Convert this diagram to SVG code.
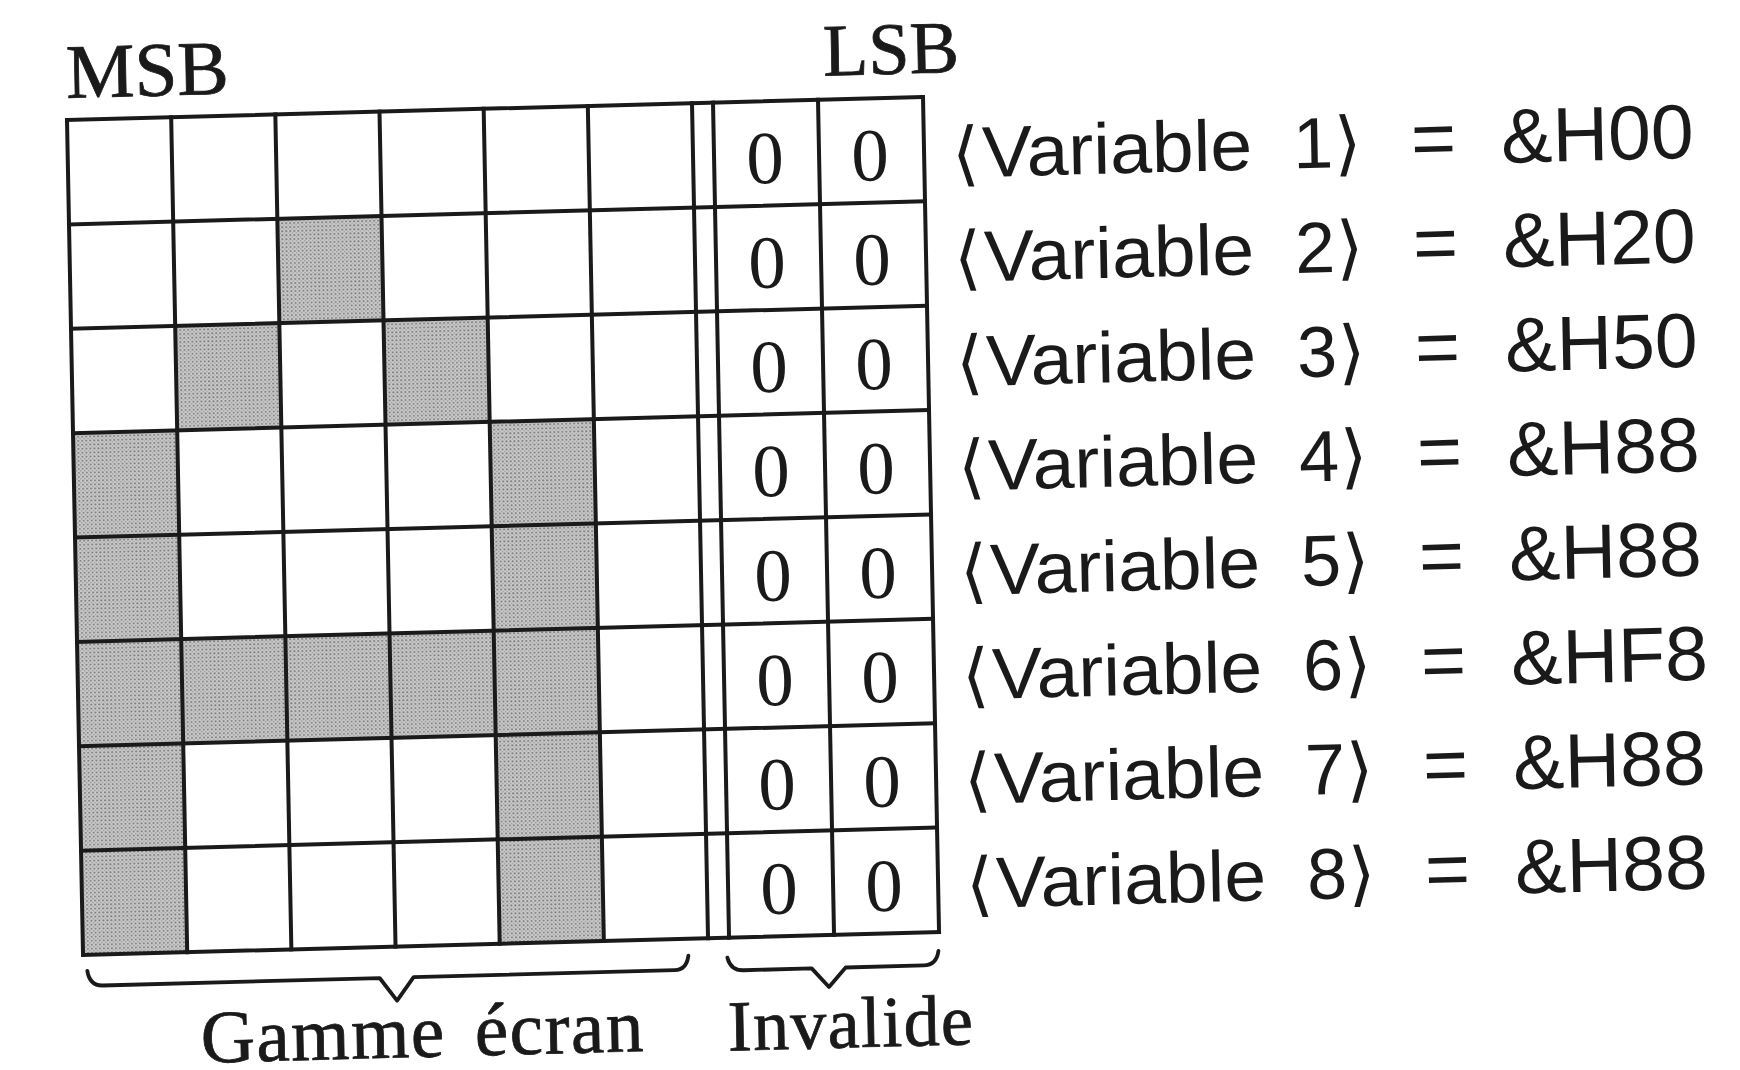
<svg xmlns="http://www.w3.org/2000/svg" width="1740" height="1070" viewBox="0 0 1740 1070">
<style>
  .ln { stroke: #1a1a1a; stroke-width: 4; fill: none; stroke-linecap: square; }
  .br { stroke: #1a1a1a; stroke-width: 3.8; fill: none; stroke-linejoin: round; stroke-linecap: round; }
  .sh { fill: url(#dots); }
  .serif { font-family: "Liberation Serif", "Times New Roman", serif; fill: #1a1a1a; stroke: #1a1a1a; stroke-width: 0.8; }
  .zero { font-family: "Liberation Serif", "Times New Roman", serif; font-size: 75px; fill: #1a1a1a; text-anchor: middle; }
  .lbl { font-family: "Liberation Sans", Arial, sans-serif; font-size: 72px; fill: #1a1a1a; }
  .ang { font-family: "DejaVu Sans", "Liberation Sans", sans-serif; font-size: 70px; }
  .hx { font-size: 77px; }
</style>
<defs>
  <pattern id="dots" width="4" height="4" patternUnits="userSpaceOnUse">
    <rect width="4" height="4" fill="#cbcbcb"/>
    <circle cx="1" cy="1" r="1" fill="#7e7e7e"/>
    <circle cx="3" cy="3" r="0.8" fill="#9a9a9a"/>
  </pattern>
</defs>
<rect width="1740" height="1070" fill="#ffffff"/>
<g transform="matrix(1,-0.0269,0.0192,1,67,120)">
  <g id="headers">
    <text class="serif" x="0" y="-22" font-size="77">MSB</text>
    <text class="serif" x="757" y="-24" font-size="74">LSB</text>
  </g>
  <g id="row1">
    <text class="zero" x="697" y="82">0</text><text class="zero" x="802" y="82">0</text>
    <text class="lbl ang" x="884" y="81.5">⟨</text>
    <text class="lbl" x="914" y="81.5" textLength="270" lengthAdjust="spacingAndGlyphs">Variable</text>
    <text class="lbl" y="81.5"><tspan x="1225">1</tspan><tspan class="ang" x="1266">⟩</tspan><tspan class="hx" x="1343">=</tspan><tspan class="hx" x="1433">&amp;H00</tspan></text>
  </g>
  <g id="row2">
    <rect class="sh" x="208.33" y="104.375" width="104.17" height="104.375"/>
    <text class="zero" x="697" y="186.4">0</text><text class="zero" x="802" y="186.4">0</text>
    <text class="lbl ang" x="884" y="185.9">⟨</text>
    <text class="lbl" x="914" y="185.9" textLength="270" lengthAdjust="spacingAndGlyphs">Variable</text>
    <text class="lbl" y="185.9"><tspan x="1225">2</tspan><tspan class="ang" x="1266">⟩</tspan><tspan class="hx" x="1343">=</tspan><tspan class="hx" x="1433">&amp;H20</tspan></text>
  </g>
  <g id="row3">
    <rect class="sh" x="104.17" y="208.75" width="104.17" height="104.375"/>
    <rect class="sh" x="312.5" y="208.75" width="104.17" height="104.375"/>
    <text class="zero" x="697" y="290.75">0</text><text class="zero" x="802" y="290.75">0</text>
    <text class="lbl ang" x="884" y="290.25">⟨</text>
    <text class="lbl" x="914" y="290.25" textLength="270" lengthAdjust="spacingAndGlyphs">Variable</text>
    <text class="lbl" y="290.25"><tspan x="1225">3</tspan><tspan class="ang" x="1266">⟩</tspan><tspan class="hx" x="1343">=</tspan><tspan class="hx" x="1433">&amp;H50</tspan></text>
  </g>
  <g id="row4">
    <rect class="sh" x="0" y="313.125" width="104.17" height="104.375"/>
    <rect class="sh" x="416.67" y="313.125" width="104.17" height="104.375"/>
    <text class="zero" x="697" y="395.1">0</text><text class="zero" x="802" y="395.1">0</text>
    <text class="lbl ang" x="884" y="394.6">⟨</text>
    <text class="lbl" x="914" y="394.6" textLength="270" lengthAdjust="spacingAndGlyphs">Variable</text>
    <text class="lbl" y="394.6"><tspan x="1225">4</tspan><tspan class="ang" x="1266">⟩</tspan><tspan class="hx" x="1343">=</tspan><tspan class="hx" x="1433">&amp;H88</tspan></text>
  </g>
  <g id="row5">
    <rect class="sh" x="0" y="417.5" width="104.17" height="104.375"/>
    <rect class="sh" x="416.67" y="417.5" width="104.17" height="104.375"/>
    <text class="zero" x="697" y="499.5">0</text><text class="zero" x="802" y="499.5">0</text>
    <text class="lbl ang" x="884" y="499">⟨</text>
    <text class="lbl" x="914" y="499" textLength="270" lengthAdjust="spacingAndGlyphs">Variable</text>
    <text class="lbl" y="499"><tspan x="1225">5</tspan><tspan class="ang" x="1266">⟩</tspan><tspan class="hx" x="1343">=</tspan><tspan class="hx" x="1433">&amp;H88</tspan></text>
  </g>
  <g id="row6">
    <rect class="sh" x="0" y="521.875" width="520.83" height="104.375"/>
    <text class="zero" x="697" y="603.9">0</text><text class="zero" x="802" y="603.9">0</text>
    <text class="lbl ang" x="884" y="603.4">⟨</text>
    <text class="lbl" x="914" y="603.4" textLength="270" lengthAdjust="spacingAndGlyphs">Variable</text>
    <text class="lbl" y="603.4"><tspan x="1225">6</tspan><tspan class="ang" x="1266">⟩</tspan><tspan class="hx" x="1343">=</tspan><tspan class="hx" x="1433">&amp;HF8</tspan></text>
  </g>
  <g id="row7">
    <rect class="sh" x="0" y="626.25" width="104.17" height="104.375"/>
    <rect class="sh" x="416.67" y="626.25" width="104.17" height="104.375"/>
    <text class="zero" x="697" y="708.25">0</text><text class="zero" x="802" y="708.25">0</text>
    <text class="lbl ang" x="884" y="707.75">⟨</text>
    <text class="lbl" x="914" y="707.75" textLength="270" lengthAdjust="spacingAndGlyphs">Variable</text>
    <text class="lbl" y="707.75"><tspan x="1225">7</tspan><tspan class="ang" x="1266">⟩</tspan><tspan class="hx" x="1343">=</tspan><tspan class="hx" x="1433">&amp;H88</tspan></text>
  </g>
  <g id="row8">
    <rect class="sh" x="0" y="730.625" width="104.17" height="104.375"/>
    <rect class="sh" x="416.67" y="730.625" width="104.17" height="104.375"/>
    <text class="zero" x="697" y="812.6">0</text><text class="zero" x="802" y="812.6">0</text>
    <text class="lbl ang" x="884" y="812.1">⟨</text>
    <text class="lbl" x="914" y="812.1" textLength="270" lengthAdjust="spacingAndGlyphs">Variable</text>
    <text class="lbl" y="812.1"><tspan x="1225">8</tspan><tspan class="ang" x="1266">⟩</tspan><tspan class="hx" x="1343">=</tspan><tspan class="hx" x="1433">&amp;H88</tspan></text>
  </g>
  <g id="grid-lines">
    <path class="ln" d="M0 0H856M0 104.375H856M0 208.75H856M0 313.125H856M0 417.5H856M0 521.875H856M0 626.25H856M0 730.625H856M0 835H856"/>
    <path class="ln" d="M0 0V835M104.17 0V835M208.33 0V835M312.5 0V835M416.67 0V835M520.83 0V835M625 0V835M646 0V835M751 0V835M856 0V835"/>
  </g>
  <g id="braces">
    <path class="br" d="M4 851 Q6 866 19 866 L296 866 L313 889 L330 866 L591 866 Q603 866 605 852"/>
    <path class="br" d="M644 855 Q647 868 660 868 L728 868 L745 887 L762 868 L840 868 Q853 868 855 854"/>
  </g>
  <g id="gamme-label">
    <text class="serif" x="116" y="946" font-size="75" letter-spacing="1.5" word-spacing="9">Gamme écran</text>
  </g>
  <g id="invalide-label">
    <text class="serif" x="643" y="948" font-size="72" textLength="245" lengthAdjust="spacing">Invalide</text>
  </g>
</g>
</svg>
